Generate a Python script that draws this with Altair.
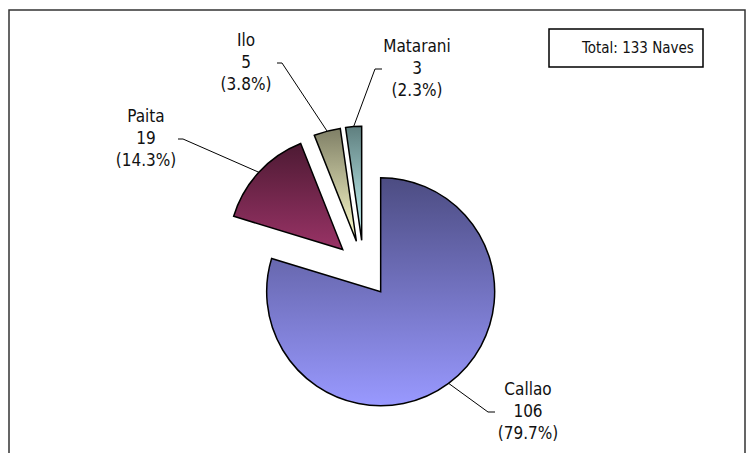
import math
import altair as alt
import pandas as pd

# ---- data ----
ports = ["Callao", "Paita", "Ilo", "Matarani"]
counts = [106, 19, 5, 3]
light_colors = ["#9999FF", "#993366", "#FFFFCC", "#CCFFFF"]
dark_colors = ["#4C4C82", "#4D1A33", "#7F7F66", "#5F7F7F"]
total_text = "Total: 133 Naves"

# ---- layout (plot-area pixels) ----
W, H = 738, 445
CX, CY = 355.7, 260.8
R = 114
EXPLODE = 28.5
FONT = "DejaVu Sans Condensed"
LINE_H = 22
# label block: centre x, centre y of the first line
label_x = [520, 138, 238, 409]
label_y = [382, 109, 33, 39]
# leader elbow and end (at the middle line of the label)
elbow_x = [480, 175, 274, 367]
end_x = [487, 170, 269, 374]

total = sum(counts)
rows = []
acc = 0
for i, (p, c) in enumerate(zip(ports, counts)):
    start, end = acc, acc + c
    acc = end
    mid = 2 * math.pi * (start + end) / 2 / total
    cx = CX + EXPLODE * math.sin(mid)
    cy = CY - EXPLODE * math.cos(mid)
    rows.append(dict(port=p, count=c, start=start, end=end, cx=cx, cy=cy,
                     ex=cx + R * math.sin(mid), ey=cy - R * math.cos(mid),
                     label=f"{p}\n{c}\n({100 * c / total:.1f}%)",
                     lx=label_x[i], ly=label_y[i]))
df = pd.DataFrame(rows)

lead = []
for i, r in df.iterrows():
    my = label_y[i] + LINE_H
    lead.append(dict(port=r.port, o=0, x=r.ex, y=r.ey))
    lead.append(dict(port=r.port, o=1, x=elbow_x[i], y=my))
    lead.append(dict(port=r.port, o=2, x=end_x[i], y=my))
lead_df = pd.DataFrame(lead)

xs = alt.Scale(domain=[0, W], range=[0, W], nice=False, zero=False)
ys = alt.Scale(domain=[0, H], range=[0, H], nice=False, zero=False)
ts = alt.Scale(domain=[0, total], range=[0, 2 * math.pi])

layers = []
for p, lc, dc in zip(ports, light_colors, dark_colors):
    grad = {"gradient": "linear", "x1": 0, "y1": 0, "x2": 0, "y2": 1,
            "stops": [{"offset": 0, "color": dc}, {"offset": 1, "color": lc}]}
    layers.append(
        alt.Chart(df).transform_filter(alt.datum.port == p)
        .mark_arc(outerRadius=R, stroke="black", strokeWidth=1.5, fill=grad)
        .encode(
            x=alt.X("cx:Q", scale=xs, axis=None),
            y=alt.Y("cy:Q", scale=ys, axis=None),
            theta=alt.Theta("start:Q", scale=ts, stack=False),
            theta2="end:Q",
        )
    )

leaders = alt.Chart(lead_df).mark_line(color="black", strokeWidth=1).encode(
    x=alt.X("x:Q", scale=xs, axis=None),
    y=alt.Y("y:Q", scale=ys, axis=None),
    detail="port:N",
    order="o:Q",
)

labels = alt.Chart(df).mark_text(
    font=FONT, fontSize=17, lineBreak="\n", lineHeight=LINE_H,
    align="center", baseline="middle", color="#111111"
).encode(
    x=alt.X("lx:Q", scale=xs, axis=None),
    y=alt.Y("ly:Q", scale=ys, axis=None),
    text="label:N",
)

frame_df = pd.DataFrame({"x": [1, 1, W - 1, W - 1], "y": [H, 2, 2, H], "o": [0, 1, 2, 3]})
frame = alt.Chart(frame_df).mark_line(color="#333333", strokeWidth=1.5).encode(
    x=alt.X("x:Q", scale=xs, axis=None),
    y=alt.Y("y:Q", scale=ys, axis=None),
    order="o:Q",
)

box_df = pd.DataFrame({"x": [541], "x2": [695], "y": [21], "y2": [59], "t": [total_text],
                       "tx": [630], "ty": [40]})
box = alt.Chart(box_df).mark_rect(fill="white", stroke="black", strokeWidth=1.5).encode(
    x=alt.X("x:Q", scale=xs, axis=None), x2="x2:Q",
    y=alt.Y("y:Q", scale=ys, axis=None), y2="y2:Q",
)
box_text = alt.Chart(box_df).mark_text(
    font=FONT, fontSize=15, align="center", baseline="middle", color="#111111"
).encode(
    x=alt.X("tx:Q", scale=xs, axis=None),
    y=alt.Y("ty:Q", scale=ys, axis=None),
    text="t:N",
)

chart = alt.layer(frame, *layers, leaders, labels, box, box_text).properties(
    width=W, height=H, padding=0,
    autosize=alt.AutoSizeParams(type="none"),
    background="white",
).configure_view(strokeWidth=0)

chart.save("out.html", embed_options={"renderer": "svg", "actions": False})
